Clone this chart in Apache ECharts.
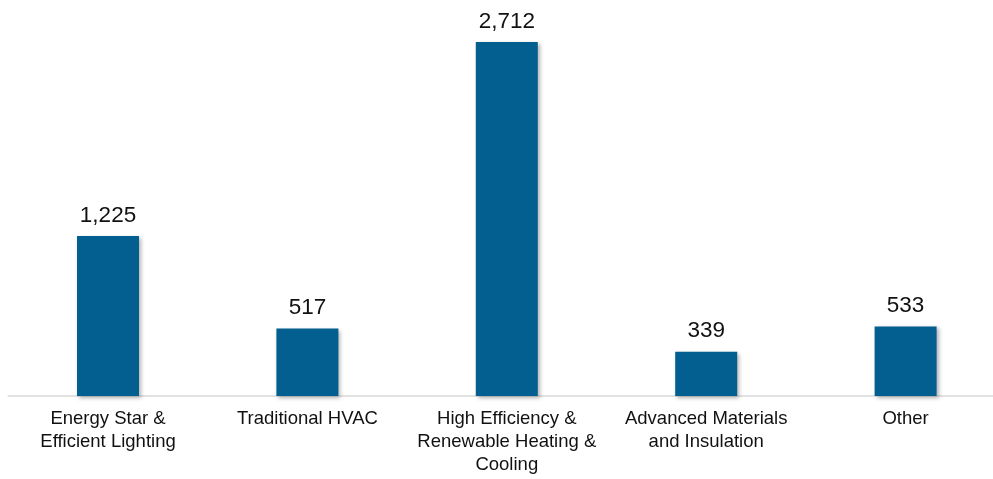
<!DOCTYPE html>
<html>
<head>
<meta charset="utf-8">
<script src="https://cdn.jsdelivr.net/npm/echarts@6/dist/echarts.min.js"></script>
<style>
html,body{margin:0;padding:0;background:#fff;}
#chart{width:993px;height:479px;}
</style>
</head>
<body>
<div id="chart"></div>
<script>
const categories = [
  "Energy Star &\nEfficient Lighting",
  "Traditional HVAC",
  "High Efficiency &\nRenewable Heating &\nCooling",
  "Advanced Materials\nand Insulation",
  "Other"
];
const values = [1225, 517, 2712, 339, 533];

const chart = echarts.init(document.getElementById('chart'));
chart.setOption({
  animation: false,
  backgroundColor: '#ffffff',
  grid: { left: 8.3, width: 997, top: 4.4, bottom: 83, containLabel: false, outerBoundsMode: 'none' },
  xAxis: {
    type: 'category',
    data: categories,
    axisLine: { show: true, lineStyle: { color: '#d9d9d9', width: 1.5 } },
    axisTick: { show: false },
    axisLabel: {
      interval: 0,
      margin: 11,
      color: '#111',
      fontFamily: 'Liberation Sans, Arial, sans-serif',
      fontSize: 18.5,
      lineHeight: 23
    }
  },
  yAxis: {
    type: 'value',
    min: 0,
    max: 3000,
    show: false,
    splitLine: { show: false }
  },
  series: [{
    type: 'bar',
    data: values,
    barWidth: 62,
    itemStyle: {
      color: '#035f8f',
      shadowBlur: 4,
      shadowColor: 'rgba(0,0,0,0.3)',
      shadowOffsetX: 2,
      shadowOffsetY: 2
    },
    label: {
      show: true,
      position: 'top',
      distance: 9,
      color: '#111',
      fontFamily: 'Liberation Sans, Arial, sans-serif',
      fontSize: 22.5,
      formatter: p => p.value.toLocaleString('en-US')
    }
  }]
});
</script>
</body>
</html>
